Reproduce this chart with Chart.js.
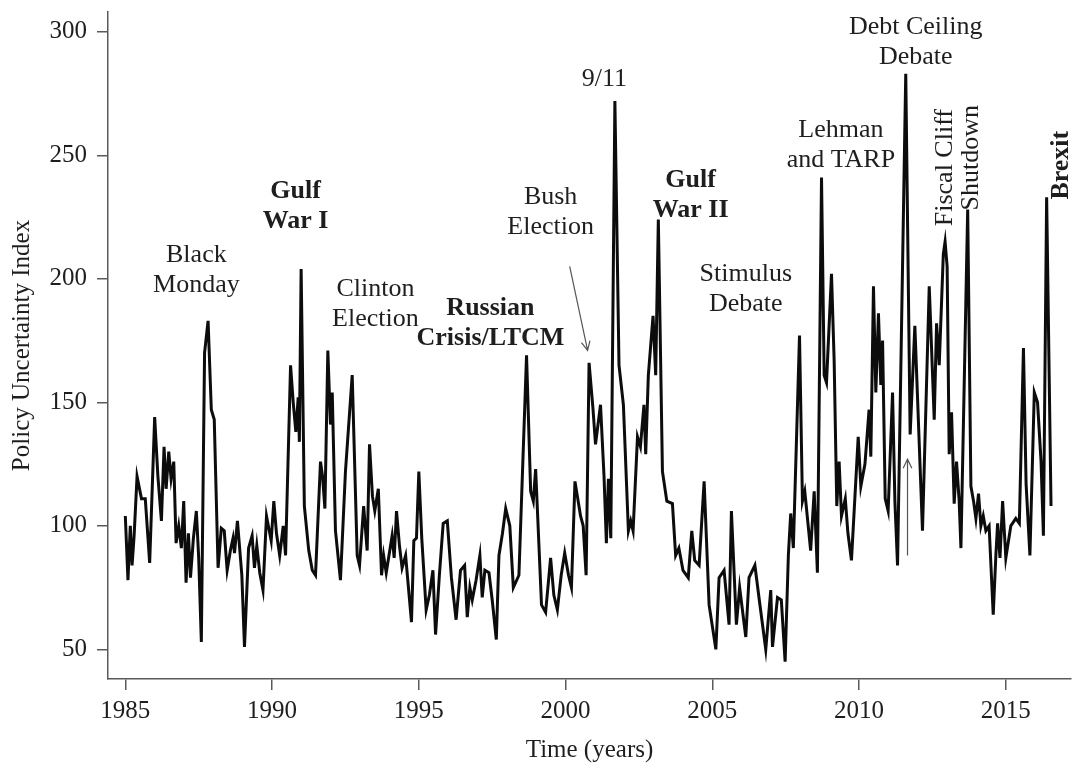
<!DOCTYPE html>
<html>
<head>
<meta charset="utf-8">
<script src="https://cdn.jsdelivr.net/npm/chart.js@4.4.0/dist/chart.umd.min.js"></script>
<style>
    html, body { margin: 0; padding: 0; background: #fff; }
</style>
</head>
<body>
<canvas id="epuChart" width="1072" height="773"></canvas>
<script>
// Vertices of the monthly index line (decimal years)
const years = [
    1985.00, 1985.09, 1985.17, 1985.23, 1985.30, 1985.40, 1985.55, 1985.68, 1985.83,
    1986.00, 1986.11, 1986.23, 1986.32, 1986.39, 1986.48, 1986.56, 1986.65, 1986.73, 1986.82, 1986.91, 1986.99,
    1987.07, 1987.15, 1987.22, 1987.32, 1987.42, 1987.50, 1987.59, 1987.70, 1987.82, 1987.93,
    1988.03, 1988.16, 1988.27, 1988.37, 1988.47, 1988.58, 1988.67, 1988.72, 1988.82, 1988.97,
    1989.06, 1989.20, 1989.32, 1989.40, 1989.48, 1989.58, 1989.69, 1989.81, 1989.97,
    1990.06, 1990.15, 1990.26, 1990.38, 1990.46, 1990.63, 1990.72, 1990.81, 1990.89, 1990.93, 1990.99,
    1991.10, 1991.25, 1991.37, 1991.48, 1991.65, 1991.72, 1991.80, 1991.90, 1991.99,
    1992.05, 1992.16, 1992.33, 1992.50, 1992.73, 1992.90, 1992.98,
    1993.12, 1993.24, 1993.32, 1993.42, 1993.50, 1993.62, 1993.73, 1993.80, 1993.89,
    1994.09, 1994.16, 1994.24, 1994.34, 1994.43, 1994.55, 1994.75, 1994.83, 1994.92,
    1995.00, 1995.10, 1995.25, 1995.36, 1995.48, 1995.57, 1995.70, 1995.83, 1995.97,
    1996.11, 1996.27, 1996.42, 1996.56, 1996.65, 1996.74, 1996.82, 1996.95,
    1997.08, 1997.16, 1997.25, 1997.39, 1997.50, 1997.64, 1997.73, 1997.85, 1997.96,
    1998.10, 1998.22, 1998.41, 1998.67, 1998.81, 1998.90, 1998.98,
    1999.18, 1999.32, 1999.49, 1999.60, 1999.72, 1999.85, 1999.97,
    2000.10, 2000.20, 2000.32, 2000.51, 2000.60, 2000.70, 2000.80, 2000.93,
    2001.02, 2001.19, 2001.31, 2001.39, 2001.46, 2001.54, 2001.68, 2001.82, 2001.97,
    2002.14, 2002.22, 2002.30, 2002.45, 2002.55, 2002.67, 2002.73, 2002.82, 2002.98,
    2003.07, 2003.16, 2003.30, 2003.45, 2003.64, 2003.75, 2003.86,
    2004.00, 2004.18, 2004.30, 2004.40, 2004.55, 2004.72, 2004.89,
    2005.12, 2005.23, 2005.40, 2005.57, 2005.65, 2005.82, 2005.93,
    2006.14, 2006.25, 2006.45, 2006.60, 2006.82, 2006.99,
    2007.05, 2007.22, 2007.35, 2007.48, 2007.59, 2007.67, 2007.76, 2007.97,
    2008.07, 2008.15, 2008.35, 2008.47, 2008.58, 2008.72, 2008.81, 2008.89,
    2009.06, 2009.15, 2009.24, 2009.32, 2009.40, 2009.53, 2009.62, 2009.74, 2009.97,
    2010.06, 2010.20, 2010.34, 2010.40, 2010.49, 2010.57, 2010.66, 2010.74, 2010.80, 2010.89, 2010.99,
    2011.14, 2011.22, 2011.31, 2011.59, 2011.74, 2011.90,
    2012.16, 2012.39, 2012.56, 2012.64, 2012.73, 2012.87, 2012.93,
    2013.00, 2013.07, 2013.15, 2013.24, 2013.32, 2013.41, 2013.47, 2013.70, 2013.81, 2013.90, 2013.98,
    2014.07, 2014.15, 2014.23, 2014.32, 2014.43, 2014.57, 2014.66, 2014.72, 2014.80, 2014.89,
    2015.00, 2015.17, 2015.34, 2015.46, 2015.60, 2015.69, 2015.82, 2015.97,
    2016.08, 2016.20, 2016.28, 2016.39, 2016.54
];
const values = [
    104, 78, 100, 84, 96, 120, 111, 111, 85,
    144, 120, 102, 132, 115, 130, 119, 126, 93, 100, 91, 110,
    77, 97, 79, 95, 106, 87, 53, 170, 183, 147,
    143, 83, 99, 98, 82, 90, 95, 89, 102, 80,
    51, 91, 96, 83, 92, 81, 74, 104, 94,
    110, 97, 88, 100, 88, 165, 150, 138, 152, 134, 204,
    108, 90, 82, 80, 126, 120, 107, 171, 141,
    154, 98, 78, 122, 161, 88, 84,
    108, 90, 133, 112, 106, 115, 80, 88, 81,
    96, 87, 106, 92, 83, 88, 61, 94, 95,
    122, 95, 66, 72, 82, 56, 80, 101, 102,
    79, 62, 82, 84, 63, 75, 70, 78,
    88, 71, 82, 81, 70, 54, 88, 97, 107,
    100, 75, 80, 169, 114, 110, 123,
    68, 65, 87, 72, 66, 80, 89,
    80, 75, 118, 104, 100, 80, 166, 148,
    133, 149, 120, 93, 119, 95, 272, 165, 149,
    98, 102, 98, 136, 132, 149, 129, 161, 185,
    161, 224, 122, 110, 109, 88, 91,
    82, 79, 98, 86, 84, 118, 68,
    50, 79, 82, 60, 106, 60, 75,
    55, 79, 84, 70, 50, 74,
    51, 71, 70, 45, 88, 105, 91, 177,
    110, 114, 90, 114, 81, 241, 161, 158,
    202, 167, 108, 126, 104, 111, 97, 86, 136,
    116, 125, 147, 128, 197, 154, 186, 157, 175, 111, 106,
    154, 110, 84, 283, 137, 181,
    98, 197, 143, 182, 165, 210, 215,
    205, 129, 146, 109, 126, 110, 91, 228, 116, 110, 103,
    113, 100, 104, 98, 100, 64, 88, 101, 87, 110,
    87, 100, 103, 101, 172, 117, 88, 154,
    150, 126, 96, 233, 108
];

const xTicks = [1985, 1990, 1995, 2000, 2005, 2010, 2015];
const yTicks = [50, 100, 150, 200, 250, 300];

// Event labels, anchored in data units (year, index value)
const notes = [
    { lines: ['Black', 'Monday'], x: 1987.42, y: 209.5 },
    { lines: ['Gulf', 'War I'], x: 1990.80, y: 235.5, bold: true },
    { lines: ['Clinton', 'Election'], x: 1993.52, y: 196 },
    { lines: ['Russian', 'Crisis/LTCM'], x: 1997.44, y: 188 },
    { lines: ['Bush', 'Election'], x: 1999.49, y: 233 },
    { lines: ['9/11'], x: 2001.32, y: 281 },
    { lines: ['Gulf', 'War II'], x: 2004.26, y: 240, bold: true },
    { lines: ['Stimulus', 'Debate'], x: 2006.14, y: 202 },
    { lines: ['Lehman', 'and TARP'], x: 2009.38, y: 260 },
    { lines: ['Debt Ceiling', 'Debate'], x: 2011.93, y: 302 },
    { lines: ['Fiscal Cliff'], x: 2012.92, y: 245, rotate: true },
    { lines: ['Shutdown'], x: 2013.81, y: 249, rotate: true },
    { lines: ['Brexit'], x: 2016.88, y: 246, rotate: true, bold: true }
];
notes[3].bold = true;
const arrows = [
    { from: [2000.14, 205], to: [2000.75, 171] },
    { from: [2011.65, 88], to: [2011.65, 127] }
];

const serif = '"Liberation Serif", "Times New Roman", serif';
const inkColor = '#1e1e1e';
const axisColor = '#5a5a5a';

const notesPlugin = {
    id: 'notes',
    afterDatasetsDraw(chart) {
        const ctx = chart.ctx;
        const xs = chart.scales.x;
        const ys = chart.scales.y;
        ctx.save();
        ctx.fillStyle = inkColor;
        ctx.textAlign = 'center';
        ctx.textBaseline = 'middle';
        notes.forEach(n => {
            const px = xs.getPixelForValue(n.x);
            const py = ys.getPixelForValue(n.y);
            ctx.font = (n.bold ? 'bold ' : '') + '26px ' + serif;
            if (n.rotate) {
                ctx.save();
                ctx.translate(px, py);
                ctx.rotate(-Math.PI / 2);
                ctx.fillText(n.lines[0], 0, 0);
                ctx.restore();
            } else {
                n.lines.forEach((t, i) => ctx.fillText(t, px, py + i * 30));
            }
        });

        // thin arrows
        ctx.strokeStyle = '#555';
        ctx.lineWidth = 1.2;
        arrows.forEach(a => {
            const x1 = xs.getPixelForValue(a.from[0]), y1 = ys.getPixelForValue(a.from[1]);
            const x2 = xs.getPixelForValue(a.to[0]), y2 = ys.getPixelForValue(a.to[1]);
            const ang = Math.atan2(y2 - y1, x2 - x1);
            ctx.beginPath();
            ctx.moveTo(x1, y1);
            ctx.lineTo(x2, y2);
            ctx.moveTo(x2 - 10 * Math.cos(ang - 0.45), y2 - 10 * Math.sin(ang - 0.45));
            ctx.lineTo(x2, y2);
            ctx.lineTo(x2 - 10 * Math.cos(ang + 0.45), y2 - 10 * Math.sin(ang + 0.45));
            ctx.stroke();
        });
        ctx.restore();
    }
};

const ctx = document.getElementById('epuChart').getContext('2d');
const chart = new Chart(ctx, {
    type: 'line',
    data: {
        datasets: [{
            label: 'Policy Uncertainty Index',
            data: years.map((yr, i) => ({ x: yr, y: values[i] })),
            borderColor: '#0c0c0c',
            borderWidth: 3,
            pointRadius: 0,
            tension: 0,
            fill: false
        }]
    },
    options: {
        responsive: false,
        animation: false,
        devicePixelRatio: 1,
        layout: { padding: { top: 12, right: 1, left: 0, bottom: 0 } },
        plugins: {
            legend: { display: false },
            tooltip: { enabled: false }
        },
        scales: {
            x: {
                type: 'linear',
                min: 1984.41,
                max: 2017.22,
                afterBuildTicks: axis => { axis.ticks = xTicks.map(v => ({ value: v })); },
                afterFit: axis => { axis.height = 94; axis.paddingLeft = 0; axis.paddingRight = 0; },
                grid: { drawOnChartArea: false, drawTicks: true, tickLength: 11, color: axisColor, lineWidth: 1.5 },
                border: { display: true, color: axisColor, width: 1.5 },
                ticks: {
                    color: inkColor,
                    font: { family: serif, size: 25 },
                    padding: 6,
                    maxRotation: 0,
                    autoSkip: false,
                    callback: v => String(v)
                },
                title: {
                    display: true,
                    text: 'Time (years)',
                    color: inkColor,
                    font: { family: serif, size: 25 },
                    padding: { top: 0, bottom: 8 }
                }
            },
            y: {
                min: 38,
                max: 308,
                afterBuildTicks: axis => { axis.ticks = yTicks.map(v => ({ value: v })); },
                afterFit: axis => { axis.width = 108; axis.paddingTop = 0; axis.paddingBottom = 0; },
                grid: { drawOnChartArea: false, drawTicks: true, tickLength: 11, color: axisColor, lineWidth: 1.5 },
                border: { display: true, color: axisColor, width: 1.5 },
                ticks: {
                    color: inkColor,
                    font: { family: serif, size: 25 },
                    padding: 10,
                    autoSkip: false
                },
                title: {
                    display: true,
                    text: 'Policy Uncertainty Index',
                    color: inkColor,
                    font: { family: serif, size: 25 },
                    padding: { top: 7, bottom: 0 }
                }
            }
        }
    },
    plugins: [notesPlugin]
});
</script>
</body>
</html>
